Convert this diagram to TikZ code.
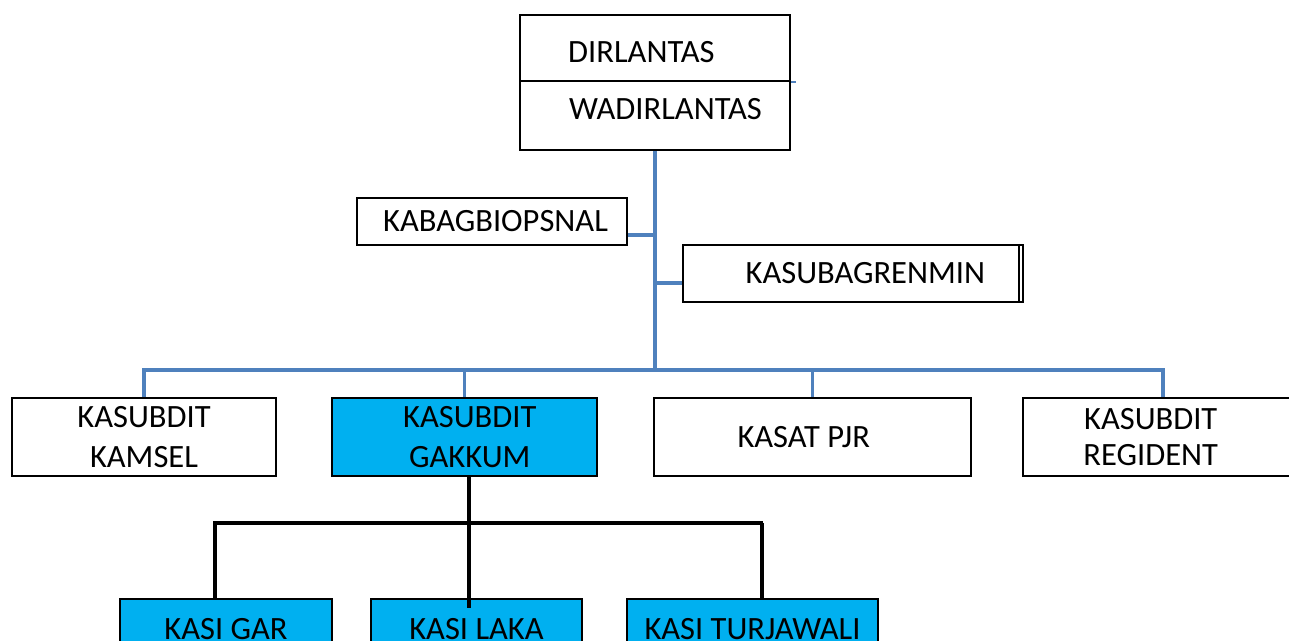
\documentclass[tikz,border=0pt]{standalone}
\usepackage{fontspec}
\setmainfont{Carlito}
\usetikzlibrary{positioning,calc}

\definecolor{orgblue}{HTML}{4F81BD}
\definecolor{orgcyan}{HTML}{00B0F0}
\newcommand{\unitpx}{0.02cm}

\tikzset{
  orgfont/.style={font=\fontsize{18.5}{22.5}\selectfont},
  box/.style={draw=black, line width=1.3pt, fill=white, inner sep=0pt, align=center, orgfont},
  hilite/.style={box, fill=orgcyan},
  lbl/.style={inner sep=0pt, orgfont},
  blueline/.style={draw=orgblue, line width=2pt},
  blackline/.style={draw=black, line width=2pt},
}

\begin{document}
\begin{tikzpicture}[x=0.02cm, y=-0.02cm]
        \clip (0,0) rectangle (1289,641);

        % Pimpinan
        \node[box, minimum width=270*\unitpx, minimum height=66*\unitpx] (dir) at (655,48) {};
        \node[box, minimum width=270*\unitpx, minimum height=69*\unitpx] (wadir) at (655,115.5) {};
        \node[lbl, anchor=base west] (dirlbl) at ([shift={(49,-20)}]dir.south west) {DIRLANTAS};
        \node[lbl, anchor=base west] (wadirlbl) at ([shift={(50,-32)}]wadir.south west) {WADIRLANTAS};

        % Staf
        \node[box, minimum width=270*\unitpx, minimum height=47*\unitpx] (kabag) at (492,221.5) {\hspace*{4pt}KABAGBIOPSNAL};
        \node[box, minimum width=340*\unitpx, minimum height=57*\unitpx] (kasubag) at (853,273.5) {\hspace*{14pt}KASUBAGRENMIN};
        \draw[line width=0.8pt] ([xshift=-5*\unitpx]kasubag.north east) -- ([xshift=-5*\unitpx]kasubag.south east);

        % Subdit
        \node[box, minimum width=264*\unitpx, minimum height=78*\unitpx] (kamsel) at (144,437) {KASUBDIT\\KAMSEL};
        \node[hilite, minimum width=265*\unitpx, minimum height=78*\unitpx] (gakkum) at (464.5,437) {\hspace*{6pt}KASUBDIT\\\hspace*{6pt}GAKKUM};
        \node[box, minimum width=317*\unitpx, minimum height=78*\unitpx] (pjr) at (812.5,437) {KASAT PJR\hspace*{10pt}};
        \node[box, minimum width=280*\unitpx, minimum height=78*\unitpx] (regident) at (1163,437) {KASUBDIT\hspace*{14pt}\\[-2pt]REGIDENT\hspace*{14pt}};

        % Kasi
        \node[hilite, minimum width=212*\unitpx, minimum height=60*\unitpx] (gar) at (226,629) {KASI GAR};
        \node[hilite, minimum width=211*\unitpx, minimum height=60*\unitpx] (laka) at (476.5,629) {KASI LAKA};
        \node[hilite, minimum width=251*\unitpx, minimum height=60*\unitpx] (turj) at (752.5,629) {KASI TURJAWALI};

        % Garis komando
        \coordinate (bus) at (655,370);
        \draw[blueline] (wadir.south) -- (bus);
        \draw[blueline] ([yshift=-13.5*\unitpx]kabag.east) -- ([yshift=-13.5*\unitpx]kabag.east -| wadir.south);
        \draw[blueline] ([yshift=-9.5*\unitpx]kasubag.west) -- ([yshift=-9.5*\unitpx]kasubag.west -| wadir.south);
        \draw[blueline] (kamsel.north) |- (bus) -| (regident.north);
        \draw[blueline] (gakkum.north) -- (gakkum.north |- bus);
        \draw[blueline] (pjr.north) -- (pjr.north |- bus);
        \draw[orgblue, line width=0.8pt] (dir.south east) -- ++(5,0);

        % Garis ke Kasi
        \coordinate (split) at (469,523);
        \coordinate (barL) at (213,523);
        \coordinate (barR) at (763,523);
        \draw[blackline] (split |- gakkum.south) -- ([yshift=-10*\unitpx]split |- laka.north);
        \draw[blackline] (barL) -- (barR);
        \draw[blackline] ([xshift=2*\unitpx]barL) -- ([xshift=2*\unitpx]barL |- gar.north);
        \draw[blackline] ([xshift=-1*\unitpx]barR) -- ([xshift=-1*\unitpx]barR |- turj.north);
\end{tikzpicture}
\end{document}
